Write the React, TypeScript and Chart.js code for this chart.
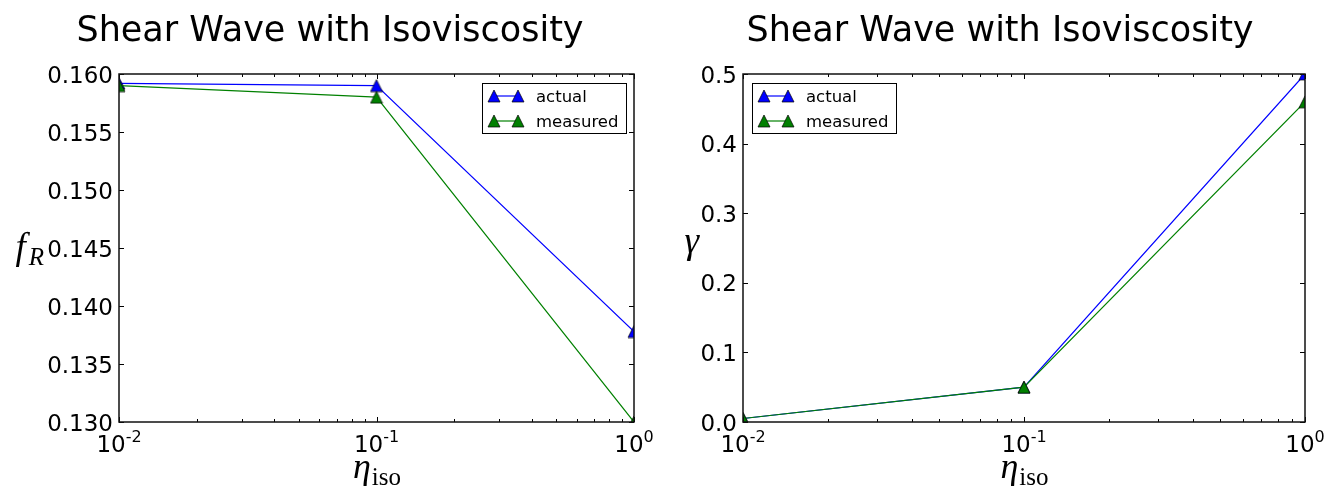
import React, { useEffect, useRef } from 'react';
import { Chart, registerables } from 'chart.js';

Chart.register(...registerables);

// Isoviscosity values (x axis, log scale)
const etaIso = [0.01, 0.1, 1];

// Rayleigh frequency f_R
const fActual = [0.1592, 0.159, 0.1378];
const fMeasured = [0.159, 0.158, 0.13];

// Damping rate gamma
const gammaActual = [0.005, 0.05, 0.5];
const gammaMeasured = [0.005, 0.05, 0.46];

// Axis ticks
const xMajorTicks = [0.01, 0.1, 1];
const xTickExponents = ['-2', '-1', '0'];
const xMinorMantissas = [2, 3, 4, 5, 6, 7, 8, 9];
const fTicks = [0.13, 0.135, 0.14, 0.145, 0.15, 0.155, 0.16];
const fTickLabels = ['0.130', '0.135', '0.140', '0.145', '0.150', '0.155', '0.160'];
const gammaTicks = [0, 0.1, 0.2, 0.3, 0.4, 0.5];
const gammaTickLabels = ['0.0', '0.1', '0.2', '0.3', '0.4', '0.5'];

const seriesLabels = ['actual', 'measured'];
const seriesColors = ['#0000ff', '#008000'];
const titleText = 'Shear Wave with Isoviscosity';

const SANS = '"DejaVu Sans", sans-serif';
const SERIF = '"Liberation Serif", "DejaVu Serif", serif';

type Panel = {
  left: number;
  width: number;
  height: number;
  area: { left: number; right: number; top: number; bottom: number };
  actual: number[];
  measured: number[];
  yMin: number;
  yMax: number;
  yTicks: number[];
  yTickLabels: string[];
  yTitle: { main: string; sub?: string; right: number; baseline: number };
  legendX: number;
  titleX: number;
};

const panels: Panel[] = [
  {
    left: 0,
    width: 670,
    height: 493,
    area: { left: 119, right: 634, top: 74, bottom: 422 },
    actual: fActual,
    measured: fMeasured,
    yMin: 0.13,
    yMax: 0.16,
    yTicks: fTicks,
    yTickLabels: fTickLabels,
    yTitle: { main: 'f', sub: 'R', right: 44, baseline: 259 },
    legendX: 482,
    titleX: 330,
  },
  {
    left: 670,
    width: 669,
    height: 493,
    area: { left: 73, right: 635, top: 74, bottom: 422 },
    actual: gammaActual,
    measured: gammaMeasured,
    yMin: 0,
    yMax: 0.5,
    yTicks: gammaTicks,
    yTickLabels: gammaTickLabels,
    yTitle: { main: 'γ', right: 29, baseline: 253 },
    legendX: 82,
    titleX: 330,
  },
];

function makeTriangle(color: string): HTMLCanvasElement {
  const c = document.createElement('canvas');
  c.width = 14;
  c.height = 14;
  const g = c.getContext('2d')!;
  g.beginPath();
  g.moveTo(7, 1);
  g.lineTo(13, 13);
  g.lineTo(1, 13);
  g.closePath();
  g.fillStyle = color;
  g.fill();
  g.lineWidth = 0.7;
  g.strokeStyle = '#000';
  g.stroke();
  return c;
}

function decorations(panel: Panel, markers: HTMLCanvasElement[]) {
  return {
    id: 'axesDecorations',
    afterDatasetsDraw(chart: any) {
      const ctx: CanvasRenderingContext2D = chart.ctx;
      const { left, right, top, bottom } = chart.chartArea;
      const xs = chart.scales.x;
      const ys = chart.scales.y;
      ctx.save();

      // inward ticks on all four sides
      ctx.strokeStyle = '#000';
      ctx.lineWidth = 1;
      const vTick = (px: number, len: number) => {
        const x = Math.round(px) + 0.5;
        ctx.beginPath();
        ctx.moveTo(x, bottom);
        ctx.lineTo(x, bottom - len);
        ctx.moveTo(x, top);
        ctx.lineTo(x, top + len);
        ctx.stroke();
      };
      const hTick = (py: number, len: number) => {
        const y = Math.round(py) + 0.5;
        ctx.beginPath();
        ctx.moveTo(left, y);
        ctx.lineTo(left + len, y);
        ctx.moveTo(right, y);
        ctx.lineTo(right - len, y);
        ctx.stroke();
      };
      xMajorTicks.forEach((v) => vTick(xs.getPixelForValue(v), 5));
      xMajorTicks.slice(0, -1).forEach((d) =>
        xMinorMantissas.forEach((m) => vTick(xs.getPixelForValue(m * d), 3))
      );
      panel.yTicks.forEach((v) => hTick(ys.getPixelForValue(v), 5));

      // axes frame
      ctx.lineWidth = 1.5;
      ctx.strokeStyle = '#111';
      ctx.strokeRect(left, top, right - left, bottom - top);

      // y tick labels
      ctx.fillStyle = '#000';
      ctx.font = `23px ${SANS}`;
      ctx.textAlign = 'right';
      ctx.textBaseline = 'alphabetic';
      panel.yTicks.forEach((v, i) => {
        ctx.fillText(panel.yTickLabels[i], left - 6, ys.getPixelForValue(v) + 8.5);
      });

      // x tick labels as powers of ten
      ctx.textAlign = 'left';
      xMajorTicks.forEach((v, i) => {
        const px = xs.getPixelForValue(v);
        ctx.font = `23px ${SANS}`;
        const wBase = ctx.measureText('10').width;
        ctx.font = `16px ${SANS}`;
        const wExp = ctx.measureText(xTickExponents[i]).width;
        const x0 = px - (wBase + wExp) / 2;
        ctx.font = `23px ${SANS}`;
        ctx.fillText('10', x0, bottom + 30);
        ctx.font = `16px ${SANS}`;
        ctx.fillText(xTickExponents[i], x0 + wBase, bottom + 20);
      });

      // x axis title: eta_iso
      ctx.font = `italic 36px ${SERIF}`;
      const wEta = ctx.measureText('η').width;
      ctx.font = `25px ${SERIF}`;
      const wIso = ctx.measureText('iso').width;
      const cx = (left + right) / 2;
      const ex = cx - (wEta + wIso) / 2;
      ctx.font = `italic 36px ${SERIF}`;
      ctx.fillText('η', ex, bottom + 56);
      ctx.font = `25px ${SERIF}`;
      ctx.fillText('iso', ex + wEta + 1, bottom + 63);

      // y axis title
      const yt = panel.yTitle;
      ctx.font = `italic 37px ${SERIF}`;
      const wMain = ctx.measureText(yt.main).width;
      let wSub = 0;
      if (yt.sub) {
        ctx.font = `italic 25px ${SERIF}`;
        wSub = ctx.measureText(yt.sub).width + 3;
      }
      const yx = yt.right - wMain - wSub;
      ctx.font = `italic 37px ${SERIF}`;
      ctx.fillText(yt.main, yx, yt.baseline);
      if (yt.sub) {
        ctx.font = `italic 25px ${SERIF}`;
        ctx.fillText(yt.sub, yx + wMain + 3, yt.baseline + 6);
      }

      // title
      ctx.font = `35px ${SANS}`;
      ctx.textAlign = 'center';
      ctx.fillText(titleText, panel.titleX, 41);

      // legend
      const lx = panel.legendX;
      const ly = top + 9;
      const lw = 144;
      const lh = 50;
      ctx.fillStyle = '#fff';
      ctx.fillRect(lx, ly, lw, lh);
      ctx.strokeStyle = '#000';
      ctx.lineWidth = 1;
      ctx.strokeRect(lx + 0.5, ly + 0.5, lw, lh);
      ctx.textAlign = 'left';
      ctx.font = `16.5px ${SANS}`;
      seriesLabels.forEach((label, i) => {
        const rowY = ly + 13 + i * 25;
        ctx.strokeStyle = seriesColors[i];
        ctx.lineWidth = 1.2;
        ctx.beginPath();
        ctx.moveTo(lx + 12, rowY);
        ctx.lineTo(lx + 36, rowY);
        ctx.stroke();
        const mk = markers[i];
        ctx.drawImage(mk, lx + 12 - mk.width / 2, rowY - mk.height / 2);
        ctx.drawImage(mk, lx + 36 - mk.width / 2, rowY - mk.height / 2);
        ctx.fillStyle = '#000';
        ctx.fillText(label, lx + 54, rowY + 6);
      });

      ctx.restore();
    },
  };
}

function ChartPanel({ panel }: { panel: Panel }) {
  const ref = useRef<HTMLCanvasElement | null>(null);

  useEffect(() => {
    if (!ref.current) return;
    const markers = seriesColors.map(makeTriangle);
    const series = [panel.actual, panel.measured];
    const chart = new Chart(ref.current, {
      type: 'line',
      data: {
        datasets: seriesLabels.map((label, i) => ({
          label,
          data: etaIso.map((x, j) => ({ x, y: series[i][j] })),
          borderColor: seriesColors[i],
          backgroundColor: seriesColors[i],
          borderWidth: 1.2,
          pointStyle: markers[i] as any,
          pointRadius: 7,
          tension: 0,
          fill: false,
          clip: 0,
          order: 2 - i,
        })),
      },
      options: {
        animation: false,
        responsive: false,
        devicePixelRatio: 1,
        layout: {
          padding: {
            left: panel.area.left,
            right: panel.width - panel.area.right,
            top: panel.area.top,
            bottom: panel.height - panel.area.bottom,
          },
        },
        scales: {
          x: { type: 'logarithmic', min: 0.01, max: 1, display: false },
          y: { type: 'linear', min: panel.yMin, max: panel.yMax, display: false },
        },
        plugins: {
          legend: { display: false },
          tooltip: { enabled: false },
          title: { display: false },
        },
        events: [],
      },
      plugins: [decorations(panel, markers)],
    });
    return () => chart.destroy();
  }, [panel]);

  return (
    <canvas
      ref={ref}
      width={panel.width}
      height={panel.height}
      style={{
        position: 'absolute',
        left: panel.left,
        top: 0,
        width: panel.width,
        height: panel.height,
      }}
    />
  );
}

export default function App() {
  return (
    <div
      style={{
        position: 'absolute',
        left: 0,
        top: 0,
        width: 1339,
        height: 493,
        background: '#fff',
        overflow: 'hidden',
      }}
    >
      {panels.map((p, i) => (
        <ChartPanel key={i} panel={p} />
      ))}
    </div>
  );
}
